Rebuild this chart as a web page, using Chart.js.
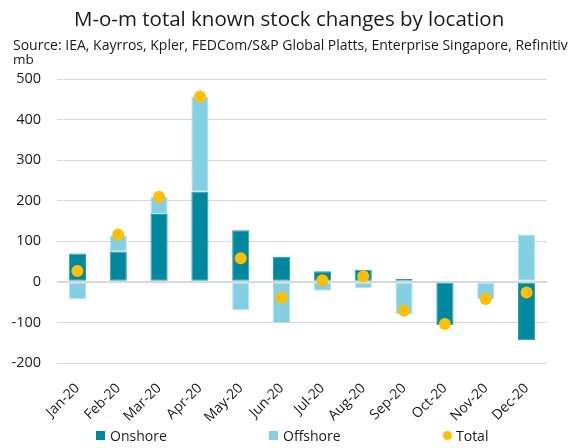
<!DOCTYPE html>
<html>
<head>
<meta charset="utf-8">
<script src="https://cdn.jsdelivr.net/npm/chart.js@4.4.1/dist/chart.umd.min.js"></script>
<style>
    body { margin: 0; padding: 0; background: #fff; font-family: 'Open Sans', sans-serif; color: #1a1a1a; }
    #wrap { position: relative; width: 568px; height: 448px; overflow: hidden; }
    #title { position: absolute; left: 74px; top: 4px; font-size: 20.5px; white-space: nowrap; }
    #source { position: absolute; left: 13px; top: 35px; font-size: 14px; white-space: nowrap; }
    #unit { position: absolute; left: 13px; top: 50px; font-size: 13.5px; }
    canvas { position: absolute; left: 0; top: 0; }
    .legend { position: absolute; top: 426px; font-size: 14px; white-space: nowrap; line-height: 20px; }
    .legend span.box { display: inline-block; width: 9px; height: 9px; margin-right: 5px; vertical-align: 1px; }
    .legend span.dot { display: inline-block; width: 9px; height: 9px; border-radius: 50%; margin-right: 4px; vertical-align: 1px; }
</style>
</head>
<body>
<div id="wrap">
    <canvas id="stockChart" width="568" height="448"></canvas>
    <div id="title">M-o-m total known stock changes by location</div>
    <div id="source">Source: IEA, Kayrros, Kpler, FEDCom/S&amp;P Global Platts, Enterprise Singapore, Refinitiv</div>
    <div id="unit">mb</div>
    <div id="legend"></div>
</div>
<script>
// Monthly changes, mb
const months = ["Jan-20", "Feb-20", "Mar-20", "Apr-20", "May-20", "Jun-20", "Jul-20", "Aug-20", "Sep-20", "Oct-20", "Nov-20", "Dec-20"];
const onshore = [70, 75, 167, 222, 127, 62, 26, 30, 7, -107, 0, -144];
const offshore = [-43, 40, 43, 235, -70, -102, -22, -16, -80, 3, -42, 117];
const total = [27, 117, 210, 457, 58, -39, 4, 14, -71, -104, -42, -26];

const yTicks = [-200, -100, 0, 100, 200, 300, 400, 500];

const colors = {
    onshore: "#00889e",
    offshore: "#85cfe3",
    total: "#ffc000"
};

// legend x positions (left edge of marker) to spread items like the original
const legendLeft = [96, 269, 443];

function createStockChart(canvasId) {
    const ctx = document.getElementById(canvasId).getContext("2d");

    return new Chart(ctx, {
        type: "bar",
        data: {
            labels: months,
            datasets: [
                {
                    label: "Onshore",
                    data: onshore,
                    backgroundColor: colors.onshore,
                    borderColor: "#2a9db0",
                    borderWidth: 1,
                    borderSkipped: false,
                    stack: "loc",
                    order: 1
                },
                {
                    label: "Offshore",
                    data: offshore,
                    backgroundColor: colors.offshore,
                    borderColor: "#b6e2ee",
                    borderWidth: 1,
                    borderSkipped: false,
                    stack: "loc",
                    order: 1
                },
                {
                    type: "line",
                    label: "Total",
                    data: total,
                    showLine: false,
                    pointRadius: 6,
                    pointHoverRadius: 6,
                    pointBackgroundColor: colors.total,
                    pointBorderWidth: 0,
                    backgroundColor: colors.total,
                    borderColor: colors.total,
                    stack: "total",
                    order: 0
                }
            ]
        },
        options: {
            responsive: false,
            animation: false,
            layout: {
                padding: { top: 79, right: 21, left: 0, bottom: 27 }
            },
            datasets: {
                bar: { barPercentage: 0.42, categoryPercentage: 1 }
            },
            scales: {
                x: {
                    stacked: true,
                    grid: { display: false, drawTicks: false },
                    border: { display: false },
                    ticks: {
                        color: "#1a1a1a",
                        font: { family: "'Open Sans', sans-serif", size: 14 },
                        maxRotation: 45,
                        minRotation: 45,
                        autoSkip: false,
                        padding: 17
                    },
                    afterFit: scale => { scale.height = 58; }
                },
                y: {
                    stacked: true,
                    min: -200,
                    max: 500,
                    afterBuildTicks: scale => { scale.ticks = yTicks.map(v => ({ value: v })); },
                    grid: {
                        color: "#d9d9d9",
                        lineWidth: c => (c.tick && c.tick.value === 0 ? 2 : 1),
                        drawTicks: false
                    },
                    border: { display: false },
                    ticks: {
                        color: "#1a1a1a",
                        font: { family: "'Open Sans', sans-serif", size: 14.5 },
                        padding: 16
                    },
                    afterFit: scale => { scale.width = 57; }
                }
            },
            plugins: {
                title: { display: false },
                tooltip: { enabled: false },
                legend: { display: false }
            }
        }
    });
}

// Simple HTML legend built from the chart's datasets
function renderLegend(chart) {
    const container = document.getElementById("legend");
    container.innerHTML = "";
    chart.data.datasets.forEach((ds, i) => {
        const item = document.createElement("div");
        item.className = "legend";
        item.style.left = legendLeft[i] + "px";
        const marker = ds.type === "line" ? "dot" : "box";
        item.innerHTML = `<span class="${marker}" style="background:${ds.backgroundColor}"></span>${ds.label}`;
        container.appendChild(item);
    });
}

const stockChart = createStockChart("stockChart");
renderLegend(stockChart);
</script>
</body>
</html>
